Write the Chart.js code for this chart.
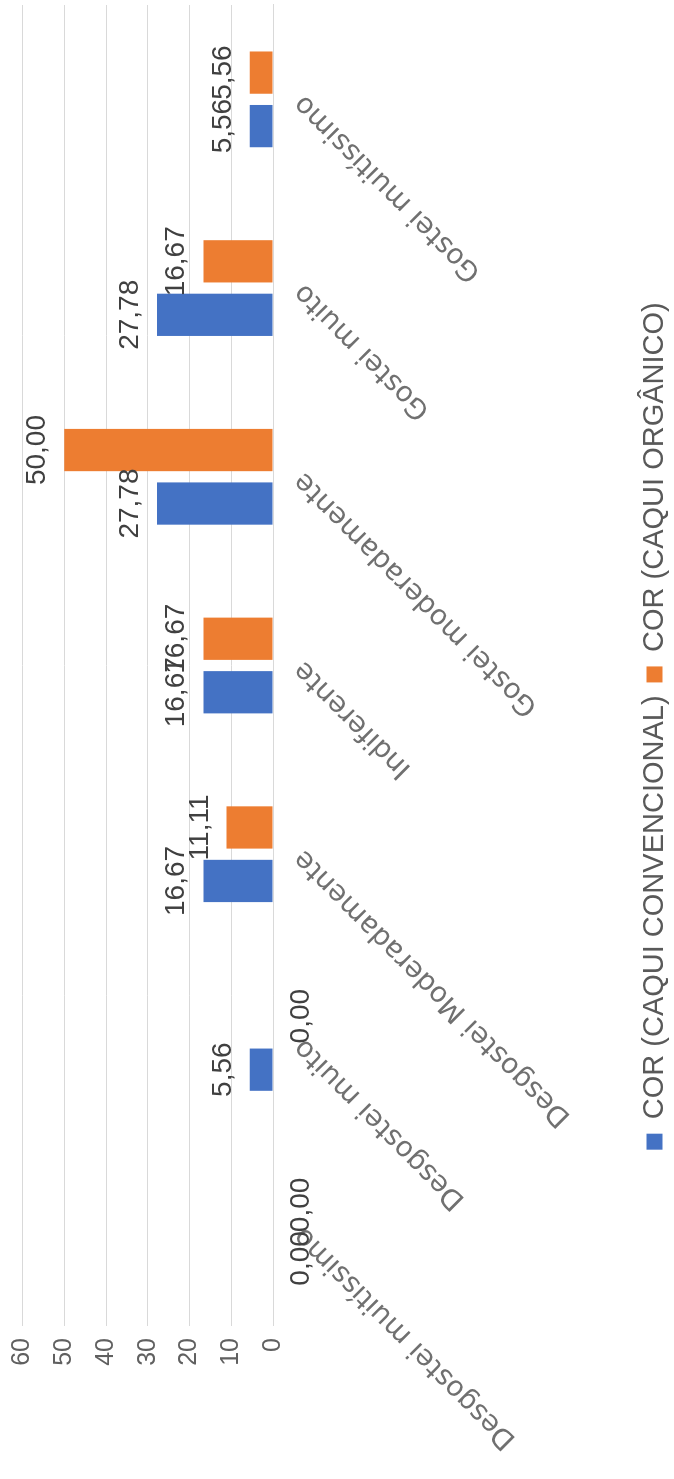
<!DOCTYPE html>
<html>
<head>
<meta charset="utf-8">
<script src="https://cdn.jsdelivr.net/npm/chart.js@4/dist/chart.umd.min.js"></script>
<style>
  html, body { margin: 0; padding: 0; background: #ffffff; overflow: hidden; width: 674px; height: 1479px; }
  #wrap { position: absolute; left: 0; top: 0; width: 1479px; height: 674px;
          transform-origin: 0 0; transform: translate(0px, 1479px) rotate(-90deg); background: #ffffff; }
</style>
</head>
<body>
<div id="wrap"><canvas id="c" width="1479" height="674"></canvas></div>
<script>
const categories = ['Desgostei muitíssimo', 'Desgostei muito', 'Desgostei Moderadamente', 'Indiferente', 'Gostei moderadamente', 'Gostei muito', 'Gostei muitíssimo'];
const seriesNames = ['COR (CAQUI CONVENCIONAL)', 'COR (CAQUI ORGÂNICO)'];
const convencional = [0.00, 5.56, 16.67, 16.67, 27.78, 27.78, 5.56];
const organico = [0.00, 0.00, 11.11, 16.67, 50.00, 16.67, 5.56];
const yTicks = [0, 10, 20, 30, 40, 50, 60];

const valueLabels = {
  id: 'valueLabels',
  afterDatasetsDraw(chart) {
    const ctx = chart.ctx;
    ctx.save();
    ctx.font = '28px "Liberation Sans", Arial, sans-serif';
    ctx.fillStyle = '#404040';
    ctx.textAlign = 'center';
    chart.data.datasets.forEach((ds, di) => {
      const meta = chart.getDatasetMeta(di);
      meta.data.forEach((bar, i) => {
        const v = ds.data[i];
        const txt = v.toFixed(2).replace('.', ',');
        if (v === 0) {
          ctx.textBaseline = 'top';
          ctx.fillText(txt, bar.x, bar.base + 14);
        } else {
          ctx.textBaseline = 'alphabetic';
          ctx.fillText(txt, bar.x, bar.y - 19);
        }
      });
    });
    ctx.restore();
  }
};

new Chart(document.getElementById('c'), {
  type: 'bar',
  data: {
    labels: categories,
    datasets: [
      { label: seriesNames[0], data: convencional, backgroundColor: '#4472C4', barPercentage: 0.79, categoryPercentage: 0.567 },
      { label: seriesNames[1], data: organico, backgroundColor: '#ED7D31', barPercentage: 0.79, categoryPercentage: 0.567 }
    ]
  },
  options: {
    responsive: false,
    devicePixelRatio: 1,
    animation: false,
    layout: { padding: { top: 22.5, right: 5, left: 32, bottom: -5 } },
    plugins: {
      tooltip: { enabled: false },
      legend: {
        position: 'bottom',
        labels: {
          boxWidth: 16, boxHeight: 16, padding: 13,
          color: '#595959',
          font: { family: '"Liberation Sans", Arial, sans-serif', size: 29 }
        }
      }
    },
    scales: {
      x: {
        grid: { display: false, drawTicks: false },
        border: { display: true, color: '#d9d9d9' },
        ticks: {
          minRotation: 45, maxRotation: 45, autoSkip: false, padding: 14,
          color: '#707070',
          font: { family: '"DejaVu Sans", sans-serif', size: 28 }
        },
        afterFit(scale) { scale.height = 354; }
      },
      y: {
        min: 0, max: 60,
        afterBuildTicks(scale) { scale.ticks = yTicks.map(v => ({ value: v })); },
        grid: { color: '#d9d9d9', drawTicks: false },
        border: { display: false },
        ticks: {
          padding: 12,
          color: '#606060',
          font: { family: '"Liberation Sans", Arial, sans-serif', size: 25 }
        },
        afterFit(scale) { scale.width = 121; scale.paddingTop = 0; scale.paddingBottom = 0; }
      }
    }
  },
  plugins: [valueLabels]
});
</script>
</body>
</html>
